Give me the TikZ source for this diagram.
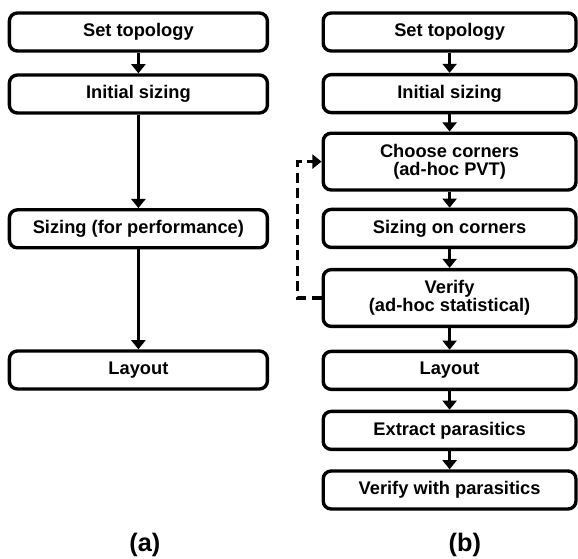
\documentclass[tikz,border=0pt]{standalone}
\usepackage{fontspec}
\setmainfont{Liberation Sans}
\usetikzlibrary{arrows.meta}

\tikzset{
  stepbox/.style={draw, line width=2.4pt, rounded corners=0.2cm, minimum width=6.4cm,
    minimum height=0.95cm, inner sep=0pt, align=center,
    font=\fontsize{13}{13}\selectfont\bfseries},
  tallbox/.style={stepbox, minimum height=1.42cm},
  flow/.style={line width=2.6pt, -{Triangle[width=10pt,length=6.5pt]}},
  loopback/.style={flow, dash pattern=on 7pt off 4pt},
  caption/.style={font=\fontsize{18}{18}\selectfont\bfseries},
}

\begin{document}
\begin{tikzpicture}
                \useasboundingbox (0,0) rectangle (14.45,-13.975);
                % (a)
                \node[stepbox,minimum width=6.45cm] (aTopo) at (3.46,-0.8) {Set topology};
                \node[stepbox,minimum width=6.45cm] (aInit) at (3.46,-2.35) {Initial sizing};
                \node[stepbox,minimum width=6.45cm] (aSize) at (3.46,-5.72) {Sizing (for performance)};
                \node[stepbox,minimum width=6.45cm] (aLayout) at (3.46,-9.25) {Layout};
                \draw[flow] (aTopo) -- (aInit);
                \draw[flow] (aInit) -- (aSize);
                \draw[flow] (aSize) -- (aLayout);
                \node[caption] (aCap) at (3.62,-13.62) {(a)};
                % (b)
                \node[stepbox,minimum width=6.32cm] (bTopo) at (11.24,-0.8) {Set topology};
                \node[stepbox,minimum width=6.32cm] (bInit) at (11.24,-2.34) {Initial sizing};
                \node[tallbox,minimum width=6.32cm] (bCorners) at (11.24,-4.04) {Choose corners\\(ad-hoc PVT)};
                \node[stepbox,minimum width=6.32cm] (bSizeCorners) at (11.24,-5.71) {Sizing on corners};
                \node[tallbox,minimum width=6.32cm] (bVerify) at (11.24,-7.45) {Verify\\(ad-hoc statistical)};
                \node[stepbox,minimum width=6.32cm] (bLayout) at (11.24,-9.26) {Layout};
                \node[stepbox,minimum width=6.32cm] (bExtract) at (11.24,-10.76) {Extract parasitics};
                \node[stepbox,minimum width=6.32cm] (bVerPar) at (11.24,-12.25) {Verify with parasitics};
                \draw[flow] (bTopo) -- (bInit);
                \draw[flow] (bInit) -- (bCorners);
                \draw[flow] (bCorners) -- (bSizeCorners);
                \draw[flow] (bSizeCorners) -- (bVerify);
                \draw[flow] (bVerify) -- (bLayout);
                \draw[flow] (bLayout) -- (bExtract);
                \draw[flow] (bExtract) -- (bVerPar);
                \draw[loopback] (bVerify.west) -- ++(-0.6,0) |- (bCorners.west);
                \node[caption] (bCap) at (11.62,-13.62) {(b)};
            \end{tikzpicture}
\end{document}
